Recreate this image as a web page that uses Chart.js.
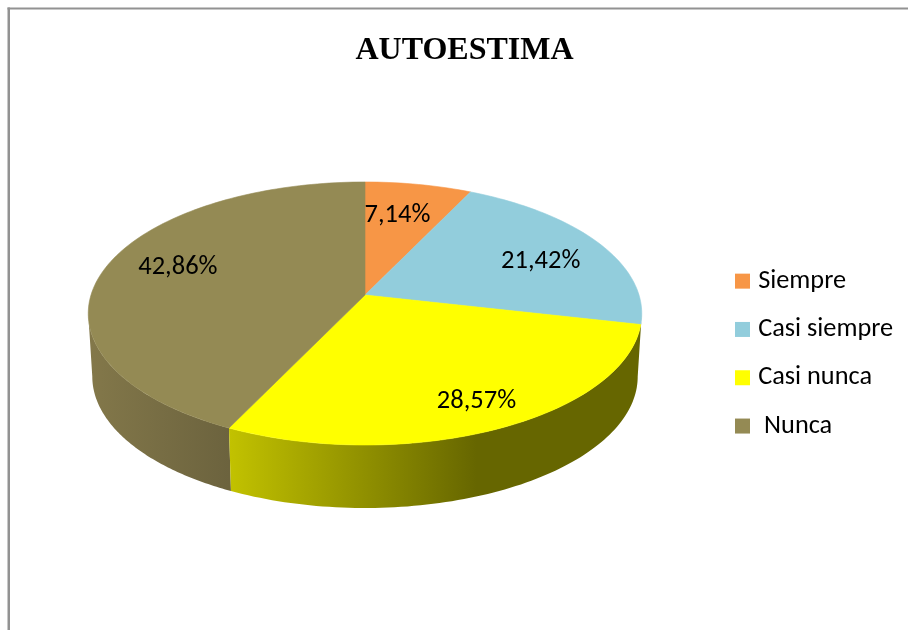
<!DOCTYPE html>
<html>
<head>
<meta charset="utf-8">
<style>html,body{margin:0;padding:0;background:#fff}canvas{display:block}</style>
<script src="https://cdn.jsdelivr.net/npm/chart.js@4/dist/chart.umd.js"></script>
</head>
<body>
<canvas id="c" width="908" height="630"></canvas>
<script>
const titleText = 'AUTOESTIMA';
const categories = ['Siempre', 'Casi siempre', 'Casi nunca', ' Nunca'];
const values = [7.14, 21.42, 28.57, 42.86];
const topColors = ['#F79646', '#92CDDC', '#FFFF00', '#948A54'];
const wallShades = [
  ['#C47838', '#C47838'],
  ['#74A3AF', '#74A3AF'],
  ['#C2C200', '#666600'],
  ['#83784A', '#6C633E']
];
const labelNudges = [[-7.5, 3], [1, 6], [5.5, 3], [1, -7]];
const labelRadii = [0.72, 0.74, 0.8, 0.72];

/* Perspective view of the tilted disc */
const VIEW = { cx: 365, cy: 295, rx: 274, ry: 128.9, k: 0.1407, depth: 63, rxBottom: 270 };
const HALF_PI = Math.PI / 2;
const wallFrom = Math.PI - Math.acos(VIEW.k);
const wallTo = 2 * Math.PI - wallFrom;

function project(clockAngle, r, bottom) {
  const x = Math.sin(clockAngle) * r, y = -Math.cos(clockAngle) * r;
  const d = 1 - VIEW.k * y;
  return {
    x: VIEW.cx + (bottom ? VIEW.rxBottom : VIEW.rx) * x / d,
    y: VIEW.cy + (bottom ? VIEW.depth : 0) + VIEW.ry * y / d
  };
}
const clock = a => a + HALF_PI;

class TiltedArc extends Chart.ArcElement {
  drawWall(ctx, shade, plateau) {
    let s = clock(this.startAngle), e = clock(this.endAngle);
    if (e < wallFrom || s > wallTo) return;
    if (Math.min(e, wallTo) - Math.max(s, wallFrom) < 0.2) return;
    if (s - wallFrom < 0.2) s = wallFrom;
    s = Math.max(s, wallFrom); e = Math.min(e, wallTo);
    const n = 90;
    const a = project(s, 1), b = project(e, 1);
    const left = Math.min(a.x, b.x), right = Math.max(a.x, b.x);
    const g = ctx.createLinearGradient(left, 0, right, 0);
    g.addColorStop(0, shade[0]);
    g.addColorStop(plateau, shade[1]);
    g.addColorStop(1, shade[1]);
    ctx.beginPath();
    for (let i = 0; i <= n; i++) {
      const p = project(s + (e - s) * i / n, 1);
      i ? ctx.lineTo(p.x, p.y) : ctx.moveTo(p.x, p.y);
    }
    for (let i = n; i >= 0; i--) {
      const p = project(s + (e - s) * i / n, 1, true);
      ctx.lineTo(p.x, p.y);
    }
    ctx.closePath();
    ctx.fillStyle = g;
    ctx.fill();
  }
  draw(ctx) {
    const s = clock(this.startAngle), e = clock(this.endAngle);
    const n = Math.max(8, Math.ceil((e - s) * 40));
    ctx.beginPath();
    ctx.moveTo(VIEW.cx, VIEW.cy);
    for (let i = 0; i <= n; i++) {
      const p = project(s + (e - s) * i / n, 1);
      ctx.lineTo(p.x, p.y);
    }
    ctx.closePath();
    ctx.fillStyle = this.options.backgroundColor;
    ctx.strokeStyle = this.options.backgroundColor;
    ctx.lineWidth = 0.6;
    ctx.fill();
    ctx.stroke();
  }
}
TiltedArc.id = 'tiltedArc';
TiltedArc.defaults = Object.assign({}, Chart.ArcElement.defaults);

class TiltedPieController extends Chart.PieController {
  draw() {
    const ctx = this.chart.ctx, arcs = this.getMeta().data;
    for (let i = arcs.length - 1; i >= 0; i--) {
      ctx.save();
      arcs[i].drawWall(ctx, wallShades[i], i === 2 ? 0.6 : 1);
      ctx.restore();
    }
    for (let i = 0; i < arcs.length; i++) {
      ctx.save();
      arcs[i].draw(ctx);
      ctx.restore();
    }
  }
}
TiltedPieController.id = 'tiltedPie';
TiltedPieController.defaults = Object.assign({}, Chart.PieController.defaults, { dataElementType: 'tiltedArc' });
TiltedPieController.overrides = Chart.PieController.overrides;
Chart.register(TiltedArc, TiltedPieController);

const frame = {
  id: 'frame',
  beforeDraw(chart) {
    const c = chart.ctx;
    c.save();
    c.fillStyle = '#929292';
    c.fillRect(7.5, 7.5, 2.5, 622.5);
    c.fillRect(7.5, 7.5, 900.5, 2);
    c.restore();
  }
};
const placeBoxes = {
  id: 'placeBoxes',
  afterLayout(chart) {
    const t = chart.titleBlock;
    t.left = 21; t.right = 908; t.top = 32; t.bottom = 74;
    const l = chart.legend;
    l.left = 718; l.right = 908; l.top = 246; l.bottom = 630;
  }
};
const sliceLabels = {
  id: 'sliceLabels',
  afterDatasetsDraw(chart) {
    const c = chart.ctx, arcs = chart.getDatasetMeta(0).data;
    c.save();
    c.font = '26.5px Carlito, Lato, sans-serif';
    c.fillStyle = '#000';
    c.textAlign = 'center';
    c.textBaseline = 'middle';
    arcs.forEach((arc, i) => {
      const p = project(clock((arc.startAngle + arc.endAngle) / 2), labelRadii[i]);
      c.fillText(values[i].toFixed(2).replace('.', ',') + '%', p.x + labelNudges[i][0], p.y + labelNudges[i][1]);
    });
    c.restore();
  }
};

new Chart(document.getElementById('c'), {
  type: 'tiltedPie',
  data: {
    labels: categories,
    datasets: [{ data: values, backgroundColor: topColors, borderWidth: 0 }]
  },
  plugins: [frame, placeBoxes, sliceLabels],
  options: {
    responsive: false,
    animation: false,
    plugins: {
      tooltip: { enabled: false },
      title: {
        display: true,
        text: titleText,
        color: '#000',
        font: { family: '"Liberation Serif", serif', size: 32, weight: 'bold' },
        padding: 0
      },
      legend: {
        display: true,
        position: 'right',
        align: 'start',
        labels: {
          color: '#000',
          font: { family: 'Carlito, Lato, sans-serif', size: 26.3 },
          boxWidth: 5,
          boxHeight: 5,
          padding: 22,
          generateLabels() {
            return categories.map((text, i) => ({
              text, index: i, fillStyle: topColors[i], strokeStyle: topColors[i], lineWidth: 10, hidden: false
            }));
          }
        }
      }
    }
  }
});
</script>
</body>
</html>
